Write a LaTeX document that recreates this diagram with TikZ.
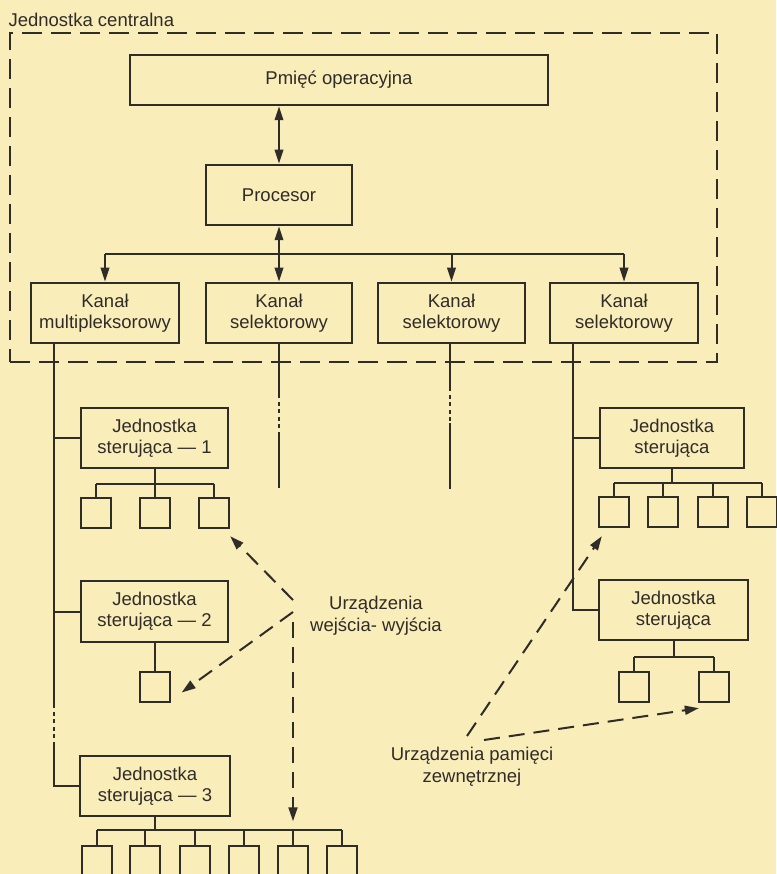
\documentclass[tikz,border=0pt]{standalone}
\usepackage{fontspec}
\setmainfont{Liberation Sans}
\usetikzlibrary{arrows.meta,positioning,calc}
\definecolor{paper}{RGB}{249,237,186}
\definecolor{ink}  {RGB}{48,44,40}
\tikzset{
  unitbox/.style ={draw=ink, line width=2.5pt, align=center, text=ink,
                   minimum width=#1, minimum height=60pt, inner sep=2pt,
                   font=\fontsize{18.5}{21}\selectfont},
  unitbox/.default=147pt,
  sqbox/.style   ={draw=ink, line width=2.4pt, minimum size=30pt, inner sep=0pt},
  wire/.style    ={draw=ink, line width=2pt},
  breakwire/.style={wire, dash pattern=on 4pt off 3.5pt, dash phase=4pt},
  biarr/.style   ={wire, {Triangle[length=14pt,width=8.5pt]}-{Triangle[length=14pt,width=8.5pt]}},
  downarr/.style ={wire, -{Triangle[length=14pt,width=8.5pt]}},
  ptr/.style     ={wire, -{Triangle[length=14pt,width=9pt]}, dash pattern=on 16pt off 9pt},
  frame/.style   ={draw=ink, line width=1.8pt, dash pattern=on 20pt off 9pt},
  lbl/.style     ={text=ink, align=center, font=\fontsize{18.5}{22}\selectfont},
}

\begin{document}
\begin{tikzpicture}[x=1pt,y=-1pt]
  \fill[paper] (0,0) rectangle (776,874);
  \useasboundingbox (0,0) rectangle (776,874);
  \node[lbl, anchor=west] (title) at (5,20) {Jednostka centralna};
  \node[frame, minimum width=707pt, minimum height=329pt] (central) at (363.5,197.5) {};
  \node[unitbox=418pt, minimum height=50pt] (mem) at (339,80) {Pmięć operacyjna};
  \node[unitbox=146pt] (cpu) at (279,195) {Procesor};
  \node[unitbox=148pt] (k1) at (105,313) {Kanał\\multipleksorowy};
  \node[unitbox=146pt] (k2) at (279,313) {Kanał\\selektorowy};
  \node[unitbox] (k3) at (451.5,313) {Kanał\\selektorowy};
  \node[unitbox=148pt] (k4) at (624,313) {Kanał\\selektorowy};
  \draw[biarr] (cpu.north |- mem.south) -- (cpu.north);
  \draw[biarr] (cpu) -- (k2);
  \coordinate (bus) at (279,254);
  \draw[wire] (bus -| k1) -- (bus -| k4);
  \foreach \k in {k1,k3,k4} \draw[downarr] (bus -| \k) -- (\k);

  \node[unitbox] (js1) at (154.5,438) {Jednostka\\sterująca — 1};
  \node[unitbox, minimum height=61pt] (js2) at (154.5,611.5) {Jednostka\\sterująca — 2};
  \node[unitbox=150pt] (js3) at (155,786) {Jednostka\\sterująca — 3};
  \node[unitbox=144pt] (js4) at (672,438) {Jednostka\\sterująca};
  \node[unitbox=149pt] (js5) at (673.5,610) {Jednostka\\sterująca};

  \coordinate (t1) at ([xshift=24pt]k1.south west);
  \draw[wire] (t1) -- ++(0,364) coordinate (t1a);
  \draw[breakwire] (t1a) -- ++(0,38) coordinate (t1b);
  \draw[wire] (t1b) |- (js3.west);
  \draw[wire] (js1.west -| t1) -- (js1.west);
  \draw[wire] (js2.west -| t1) -- (js2.west);
  \draw[wire] (k2.south) -- ++(0,54) coordinate (t2a);
  \draw[breakwire] (t2a) -- ++(0,36) coordinate (t2b);
  \draw[wire] (t2b) -- ++(0,54) coordinate (t2c);
  \draw[wire] ([xshift=-1.5pt]k3.south) -- ++(0,47) coordinate (t3a);
  \draw[breakwire] (t3a) -- ++(0,32) coordinate (t3b);
  \draw[wire] (t3b) -- ++(0,66) coordinate (t3c);
  \coordinate (t4) at ([xshift=24pt]k4.south west);
  \draw[wire] (t4) |- (js5.west);
  \draw[wire] (js4.west -| t4) -- (js4.west);

  \foreach \i/\x in {1/96,2/155,3/214} \node[sqbox] (d1\i) at (\x,513) {};
  \draw[wire] (js1.south) -- ++(0,15) coordinate (b1);
  \draw[wire] (b1 -| d11) -- (b1 -| d13);
  \foreach \i in {1,2,3} \draw[wire] (b1 -| d1\i) -- (d1\i.north);
  \node[sqbox] (d21) at (155,687) {};
  \draw[wire] (js2.south -| d21) -- (d21);
  \foreach \i/\x in {1/97,2/145,3/195,4/244,5/293,6/342} \node[sqbox] (d3\i) at (\x,861) {};
  \draw[wire] (js3.south) -- ++(0,13) coordinate (b3);
  \draw[wire] (b3 -| d31) -- (b3 -| d36);
  \foreach \i in {1,...,6} \draw[wire] (b3 -| d3\i) -- (d3\i.north);
  \foreach \i/\x in {1/614,2/663,3/713,4/762} \node[sqbox] (d4\i) at (\x,512) {};
  \draw[wire] (js4.south) -- ++(0,14) coordinate (b4);
  \draw[wire] (b4 -| d41) -- (b4 -| d44);
  \foreach \i in {1,...,4} \draw[wire] (b4 -| d4\i) -- (d4\i.north);
  \foreach \i/\x in {1/634,2/714} \node[sqbox] (d5\i) at (\x,687) {};
  \draw[wire] (js5.south) -- ++(0,16) coordinate (b5);
  \draw[wire] (b5 -| d51) -- (b5 -| d52);
  \foreach \i in {1,2} \draw[wire] (b5 -| d5\i) -- (d5\i.north);

  \node[lbl] (iolbl) at (376,616) {Urządzenia\\wejścia- wyjścia};
  \node[lbl] (extlbl) at (472,767) {Urządzenia pamięci\\zewnętrznej};
  \coordinate (io1) at (293,600);
  \coordinate (io2) at (293,612);
  \coordinate (io3) at (293,622);
  \coordinate (ext1) at (467,736);
  \coordinate (ext2) at (484,740);
  \draw[ptr] (io1) -- ([yshift=-7pt]d13.south east);
  \draw[ptr] (io2) -- ([shift={(10.5pt,-5.5pt)}]d21.east);
  \draw[ptr, shorten >=9pt] (io3) -- (b3 -| d35);
  \draw[ptr] (ext1) -- ([shift={(4pt,-8pt)}]d41.south west);
  \draw[ptr] (ext2) -- ([shift={(1pt,-5pt)}]d52.south west);
\end{tikzpicture}
\end{document}
